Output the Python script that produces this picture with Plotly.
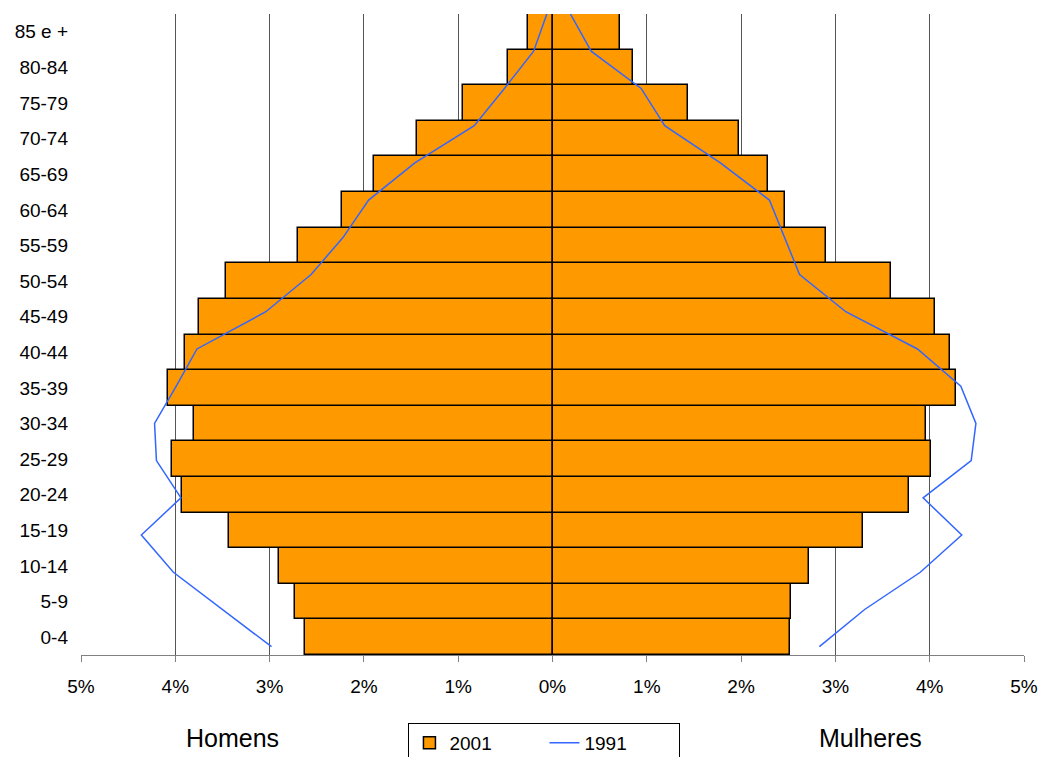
import plotly.graph_objects as go

# Age groups, bottom to top
ages = ["0-4", "5-9", "10-14", "15-19", "20-24", "25-29", "30-34", "35-39", "40-44",
        "45-49", "50-54", "55-59", "60-64", "65-69", "70-74", "75-79", "80-84", "85 e +"]

# 2001 population share (%)
homens_2001 = [2.62, 2.73, 2.90, 3.43, 3.93, 4.03, 3.80, 4.08, 3.90,
               3.75, 3.46, 2.70, 2.23, 1.89, 1.44, 0.95, 0.47, 0.26]
mulheres_2001 = [2.52, 2.53, 2.72, 3.29, 3.78, 4.01, 3.96, 4.28, 4.22,
                 4.06, 3.59, 2.90, 2.47, 2.28, 1.98, 1.44, 0.85, 0.72]

# 1991 population share (%)
homens_1991 = [2.98, 3.50, 4.02, 4.36, 3.94, 4.20, 4.22, 3.99, 3.77,
               3.04, 2.56, 2.22, 1.95, 1.46, 0.83, 0.51, 0.20, 0.06]
mulheres_1991 = [2.83, 3.31, 3.90, 4.34, 3.93, 4.44, 4.49, 4.33, 3.87,
                 3.11, 2.62, 2.46, 2.30, 1.78, 1.19, 0.94, 0.41, 0.19]

x_ticks = [-5, -4, -3, -2, -1, 0, 1, 2, 3, 4, 5]
x_tick_labels = ["5%", "4%", "3%", "2%", "1%", "0%", "1%", "2%", "3%", "4%", "5%"]

FONT = "Liberation Sans, Arial, sans-serif"
ORANGE = "#FF9900"
BLUE = "#3366FF"

fig = go.Figure()

bar_line = dict(color="black", width=1.5)
fig.add_trace(go.Bar(
    y=ages, x=[-v for v in homens_2001], orientation="h",
    marker=dict(color=ORANGE, line=bar_line),
    name="2001", legendgroup="2001", showlegend=True,
))
fig.add_trace(go.Bar(
    y=ages, x=mulheres_2001, orientation="h",
    marker=dict(color=ORANGE, line=bar_line),
    name="2001", legendgroup="2001", showlegend=False,
))

# 1991 profile on its own vertical scale (one point per age group)
pos_1991 = list(range(len(ages)))
fig.add_trace(go.Scatter(
    x=[-v for v in homens_1991], y=pos_1991, yaxis="y2", mode="lines",
    line=dict(color=BLUE, width=1.5),
    name="1991", legendgroup="1991", showlegend=True,
))
fig.add_trace(go.Scatter(
    x=mulheres_1991, y=pos_1991, yaxis="y2", mode="lines",
    line=dict(color=BLUE, width=1.5),
    name="1991", legendgroup="1991", showlegend=False,
))

fig.update_layout(
    width=1042, height=757,
    margin=dict(l=81, r=18, t=14, b=102, autoexpand=False),
    paper_bgcolor="white", plot_bgcolor="white",
    font=dict(family=FONT, size=19, color="black"),
    barmode="overlay", bargap=0,
    xaxis=dict(
        range=[-5, 5], tickvals=x_ticks, ticktext=x_tick_labels,
        showgrid=True, gridcolor="#555555", gridwidth=1,
        zeroline=True, zerolinecolor="black", zerolinewidth=2,
        showline=True, linecolor="#808080", linewidth=1,
        ticks="outside", ticklen=6, tickcolor="#808080",
        ticklabelstandoff=8, tickfont=dict(size=19), automargin=False,
    ),
    yaxis=dict(
        type="category", categoryorder="array", categoryarray=ages,
        range=[-0.5, len(ages) - 0.5],
        showgrid=False, zeroline=False, showline=False,
        ticks="", ticklabelstandoff=12, tickfont=dict(size=19), automargin=False,
    ),
    yaxis2=dict(
        overlaying="y", range=[-0.223, len(ages) - 1],
        visible=False, showgrid=False, zeroline=False,
    ),
    legend=dict(
        orientation="h", x=0.5225, xanchor="center", y=0.045, yanchor="top",
        xref="container", yref="container",
        bordercolor="black", borderwidth=1, bgcolor="white",
        font=dict(size=19), entrywidth=90, traceorder="normal",
    ),
    showlegend=True,
    annotations=[
        dict(text="Homens", x=0.161, y=-0.13, xref="paper", yref="paper",
             xanchor="center", yanchor="middle", showarrow=False,
             font=dict(size=25)),
        dict(text="Mulheres", x=0.837, y=-0.13, xref="paper", yref="paper",
             xanchor="center", yanchor="middle", showarrow=False,
             font=dict(size=25)),
    ],
)

fig.write_html("out.html")
